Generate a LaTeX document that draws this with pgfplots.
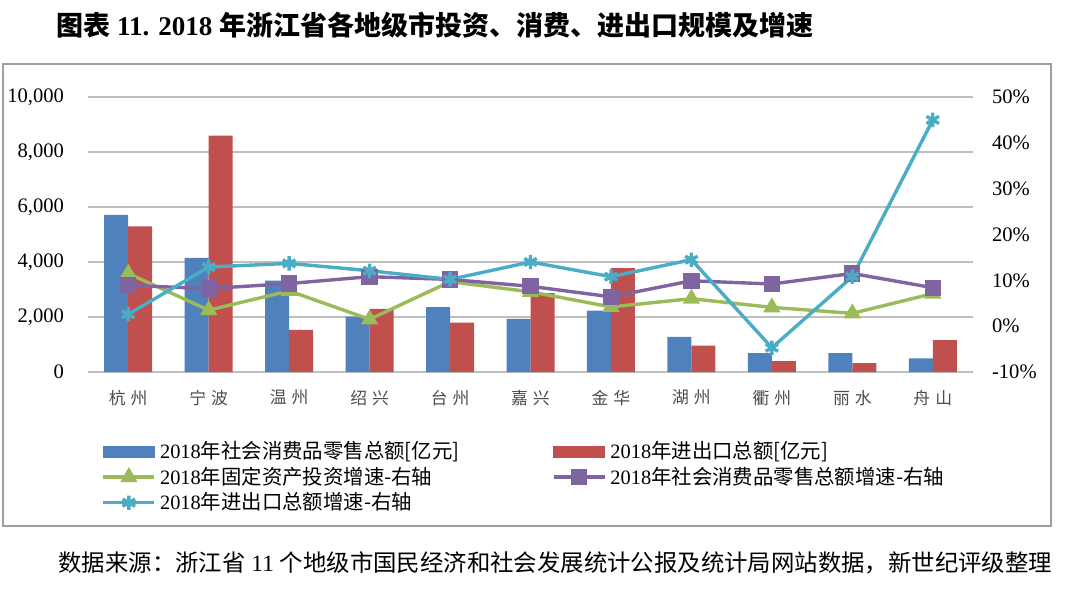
\documentclass[border=0pt]{standalone}
\usepackage{pgfplots}
\pgfplotsset{compat=1.18}
\usepackage{fontspec}
\setmainfont{Liberation Serif}
\newfontfamily\cjk{Noto Sans CJK SC}
\definecolor{cblue}{HTML}{4F81BD}
\definecolor{cred}{HTML}{C0504D}
\definecolor{cgreen}{HTML}{9BBB59}
\definecolor{cpurple}{HTML}{8064A2}
\definecolor{ccyan}{HTML}{4BACC6}
\newcommand\cl[2]{{\cjk #1\hspace{2.5pt}#2}}
\begin{document}
\begin{tikzpicture}
\path[use as bounding box] (0,0) rectangle (540pt,-294.5pt);
\node[anchor=west,inner sep=0pt] at (28pt,-12.5pt) {\fontsize{13.5}{16}\selectfont\bfseries{\cjk 图表} 11. 2018 {\cjk 年浙江省各地级市投资、消费、进出口规模及增速}};
\node[anchor=west,inner sep=0pt] at (29pt,-281.5pt) {\fontsize{11.7}{14}\selectfont{\cjk 数据来源：浙江省} 11 {\cjk 个地级市国民经济和社会发展统计公报及统计局网站数据，新世纪评级整理}};
\draw[gray!75, line width=1pt] (1.5pt,-32pt) rectangle (525.5pt,-263pt);
\begin{axis}[
  at={(44pt,-186pt)}, anchor=south west, scale only axis,
  width=442.5pt, height=137.5pt,
  xmin=-0.5, xmax=10.5, ymin=0, ymax=10000,
  ytick={0,2000,...,10000},
  ymajorgrids, grid style={line width=0.9pt, color=gray!50},
  axis line style={draw=none}, major tick length=0pt,
  xtick={0,...,10},
  xticklabels={\cl{杭}{州},\cl{宁}{波},\cl{温}{州},\cl{绍}{兴},\cl{台}{州},\cl{嘉}{兴},\cl{金}{华},\cl{湖}{州},\cl{衢}{州},\cl{丽}{水},\cl{舟}{山}},
  xticklabel style={font=\fontsize{8.4}{9}\selectfont, text=black!70, yshift=-5.5pt},
  yticklabel style={font=\fontsize{10.3}{12}\selectfont, xshift=-8.5pt},
  scaled y ticks=false,
  /pgf/number format/1000 sep={,},
  /pgf/number format/assume math mode=true,
  ybar=0pt, bar width=12pt,
]
\addplot[fill=cblue, draw=none] coordinates {(0,5710) (1,4150) (2,3320) (3,2010) (4,2360) (5,1930) (6,2230) (7,1280) (8,690) (9,690) (10,497)};
\addplot[fill=cred, draw=none] coordinates {(0,5300) (1,8600) (2,1530) (3,2300) (4,1800) (5,2870) (6,3780) (7,960) (8,400) (9,320) (10,1160)};
\end{axis}
\begin{axis}[
  at={(44pt,-186pt)}, anchor=south west, scale only axis,
  width=442.5pt, height=137.5pt,
  xmin=-0.5, xmax=10.5, ymin=-10, ymax=50,
  ytick={-10,0,...,50},
  axis y line*=right, axis x line=none,
  axis line style={draw=none}, major tick length=0pt,
  yticklabel={\pgfmathprintnumber{\tick}\%},
  yticklabel style={font=\fontsize{10.3}{12}\selectfont, xshift=6pt},
  /pgf/number format/assume math mode=true,
  legend columns=2,
  legend style={at={(0.015,-0.236)}, anchor=north west, draw=none, fill=none,
    inner sep=0pt, row sep=-1.3pt,
    font=\fontsize{10.2}{12}\selectfont,
    /tikz/every even column/.append style={column sep=4pt}},
  legend cell align=left,
  legend image code/.code={\draw[mark repeat=2,mark phase=2] plot coordinates {(0pt,0pt) (12.75pt,0pt) (25.5pt,0pt)};},
]
\addlegendimage{legend image code/.code={\fill[cblue] (0pt,-2.75pt) rectangle (25.5pt,2.75pt);}}
\addlegendentry{\makebox[190pt][l]{2018{\cjk 年社会消费品零售总额[亿元]}}}
\addlegendimage{legend image code/.code={\fill[cred] (0pt,-2.75pt) rectangle (25.5pt,2.75pt);}}
\addlegendentry{2018{\cjk 年进出口总额[亿元]}}
\addplot[color=cgreen, line width=1.7pt, mark=triangle*, mark size=3.3pt, mark options={solid}] coordinates {(0,11.5) (1,3.5) (2,7.7) (3,1.5) (4,9.7) (5,7.5) (6,4.2) (7,6.0) (8,4.1) (9,2.8) (10,7.1)};
\addlegendentry{\makebox[190pt][l]{2018{\cjk 年固定资产投资增速-右轴}}}
\addplot[color=cpurple, line width=1.7pt, mark=square*, mark size=3.2pt] coordinates {(0,8.9) (1,8.2) (2,9.3) (3,10.8) (4,10.2) (5,8.7) (6,6.4) (7,9.9) (8,9.2) (9,11.5) (10,8.4)};
\addlegendentry{2018{\cjk 年社会消费品零售总额增速-右轴}}
\addplot[color=ccyan, line width=1.7pt, mark=asterisk, mark size=3.6pt] coordinates {(0,2.6) (1,12.9) (2,13.7) (3,12.1) (4,10.2) (5,14.0) (6,10.8) (7,14.5) (8,-4.7) (9,10.8) (10,45.0)};
\addlegendentry{\makebox[190pt][l]{2018{\cjk 年进出口总额增速-右轴}}}
\end{axis}
\end{tikzpicture}
\end{document}
